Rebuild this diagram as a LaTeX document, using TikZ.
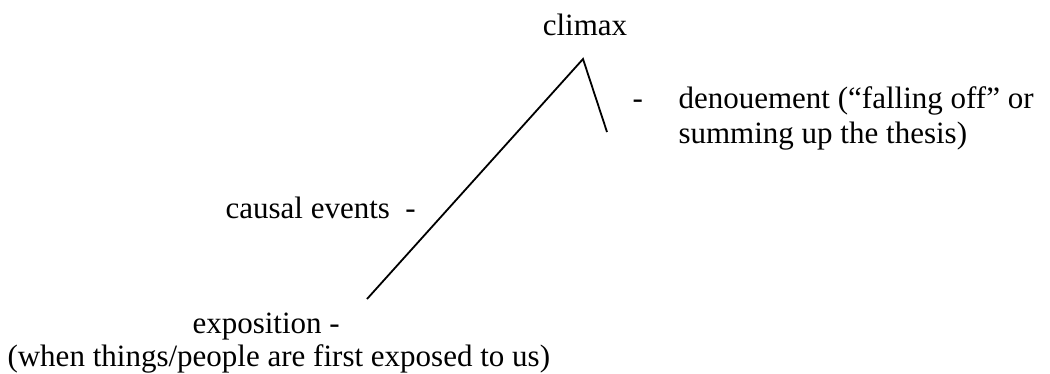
\documentclass[tikz,border=0pt]{standalone}
\usepackage{fontspec}
\setmainfont{Liberation Serif}
\usepackage{tikz}

\begin{document}
\begin{tikzpicture}[x=0.387pt, y=-0.387pt]
        \tikzset{plotline/.style={line width=0.7pt, black},
        lbl/.style={inner sep=0pt, font=\fontsize{12pt}{14pt}\selectfont}}
        \useasboundingbox (0,0) rectangle (1050,373);
        % the rising and falling line
        \coordinate (start) at (367,299);
        \coordinate (apex) at (583,59);
        \coordinate (fall) at (607,132);
        \draw[plotline] (start) -- (apex) -- (fall);
        % labels
        \node[lbl, anchor=base] (climax) at (585,35) {climax};
        \node[lbl, anchor=base west] (dash) at (632,108) {-};
        \node[lbl, anchor=base west] (denoue) at (678,108) {denouement (“falling off” or};
        \node[lbl, anchor=base west] (summing) at (678,143) {summing up the thesis)};
        \node[lbl, anchor=base west] (causal) at (225,218) {causal events\ \ -};
        \node[lbl, anchor=base west] (expo) at (192,333) {exposition -};
        \node[lbl, anchor=base west] (exponote) at (7,366) {(when things/people are first exposed to us)};
    \end{tikzpicture}
\end{document}
